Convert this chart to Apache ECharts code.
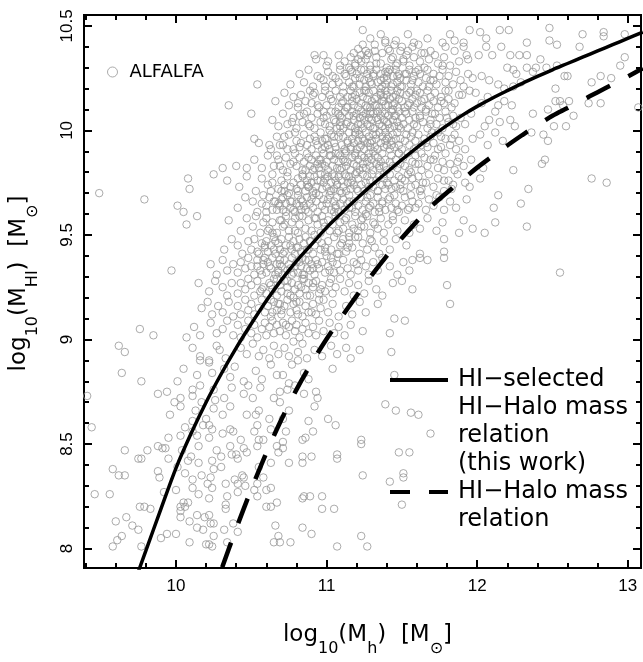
<!DOCTYPE html>
<html><head><meta charset="utf-8">
<script src="https://cdn.jsdelivr.net/npm/echarts@6/dist/echarts.min.js"></script>
<style>html,body{margin:0;padding:0;background:#fff}#c{width:643px;height:662px}</style>
</head><body><div id="c"></div>
<script>
const xRange = [9.389, 13.088];
const yRange = [7.907, 10.552];
const xMajorTicks = [10, 11, 12, 13];
const xMinorTicks = [9.4, 9.6, 9.8, 10.2, 10.4, 10.6, 10.8, 11.2, 11.4, 11.6, 11.8, 12.2, 12.4, 12.6, 12.8, 13.0];
const yMajorTicks = [8, 8.5, 9, 9.5, 10, 10.5];
const yMinorTicks = [8.1, 8.2, 8.3, 8.4, 8.6, 8.7, 8.8, 8.9, 9.1, 9.2, 9.3, 9.4, 9.6, 9.7, 9.8, 9.9, 10.1, 10.2, 10.3, 10.4];

const solidX = [9.7, 9.8, 9.9, 10.0, 10.1, 10.2, 10.3, 10.4, 10.5, 10.6, 10.7, 10.8, 10.9, 11.0, 11.1, 11.2, 11.3, 11.4, 11.5, 11.6, 11.7, 11.8, 11.9, 12.0, 12.1, 12.2, 12.3, 12.4, 12.5, 12.6, 12.7, 12.8, 12.9, 13.0, 13.1];
const solidY = [7.79, 7.99, 8.19, 8.385, 8.55, 8.70, 8.835, 8.96, 9.075, 9.185, 9.285, 9.375, 9.455, 9.535, 9.605, 9.673, 9.738, 9.80, 9.86, 9.918, 9.972, 10.024, 10.072, 10.115, 10.154, 10.19, 10.225, 10.258, 10.29, 10.32, 10.35, 10.38, 10.41, 10.44, 10.47];
const dashX = [10.2, 10.3, 10.4, 10.5, 10.6, 10.7, 10.8, 10.9, 11.0, 11.1, 11.2, 11.3, 11.4, 11.5, 11.6, 11.7, 11.8, 11.9, 12.0, 12.1, 12.2, 12.3, 12.4, 12.5, 12.6, 12.7, 12.8, 12.9, 13.0, 13.1];
const dashY = [7.70, 7.897, 8.096, 8.283, 8.458, 8.617, 8.76, 8.887, 9.002, 9.108, 9.21, 9.308, 9.40, 9.485, 9.565, 9.64, 9.703, 9.763, 9.822, 9.876, 9.928, 9.978, 10.025, 10.07, 10.107, 10.145, 10.183, 10.22, 10.258, 10.297];

const bandTop = [[11.24,10.48],[11.54,10.46],[11.67,10.44],[11.82,10.46],[11.95,10.48],[12.02,10.47],[12.15,10.48],[12.21,10.48],[12.48,10.49],[12.70,10.46],[12.84,10.47],[12.84,10.45],[12.98,10.46],[11.61,10.41],[11.77,10.42],[11.79,10.40],[11.91,10.42],[12.06,10.44],[12.16,10.40],[12.33,10.42],[12.48,10.43],[12.53,10.41],[12.68,10.40],[11.24,10.41],[11.39,10.43],[11.45,10.41],[11.57,10.40],[11.91,10.40],[11.85,10.43],[10.92,10.36],[10.98,10.36],[10.93,10.34],[11.0,10.31]];
const band103 = [[11.54,10.38],[11.42,10.38],[11.32,10.38],[11.18,10.37],[11.23,10.36],[11.28,10.37],[11.69,10.38],[11.72,10.36],[11.85,10.38],[11.93,10.36],[11.94,10.34],[12.01,10.36],[12.06,10.40],[12.10,10.36],[12.22,10.36],[12.28,10.36],[12.33,10.36],[12.42,10.34],[12.98,10.35],[12.95,10.31],[12.20,10.30],[12.24,10.29],[12.33,10.30],[12.39,10.30],[12.46,10.30],[12.53,10.31],[11.12,10.33],[11.15,10.30],[11.19,10.32],[11.26,10.34],[11.29,10.31],[11.33,10.35],[11.36,10.32],[11.40,10.30],[11.44,10.35],[11.47,10.32],[11.51,10.34],[11.55,10.31],[11.58,10.35],[11.62,10.33],[11.65,10.30],[11.68,10.34],[11.74,10.32],[11.78,10.35],[11.82,10.31],[11.88,10.33],[11.08,10.36],[11.37,10.37],[11.49,10.38],[11.63,10.37],[11.21,10.34]];
const band102 = [[10.76,10.22],[10.82,10.27],[10.85,10.23],[10.88,10.29],[10.91,10.21],[10.94,10.26],[10.98,10.24],[11.01,10.28],[11.04,10.22],[11.06,10.25],[11.09,10.29],[11.11,10.21],[11.13,10.26],[11.15,10.23],[11.17,10.28],[11.18,10.21],[11.19,10.25],[11.20,10.27],[11.22,10.22],[11.23,10.29],[11.25,10.24],[11.26,10.21],[11.27,10.27],[11.28,10.25],[11.29,10.29],[11.30,10.22],[11.31,10.26],[11.33,10.29],[11.34,10.23],[11.36,10.27],[11.37,10.21],[11.38,10.25],[11.39,10.28],[11.40,10.24],[11.41,10.28],[11.43,10.21],[11.44,10.26],[11.46,10.29],[11.47,10.23],[11.48,10.27],[11.49,10.25],[11.50,10.21],[11.52,10.27],[11.53,10.24],[11.55,10.29],[11.56,10.22],[11.58,10.26],[11.59,10.28],[11.61,10.23],[11.62,10.27],[11.64,10.21],[11.66,10.25],[11.67,10.29],[11.69,10.24],[11.71,10.27],[11.73,10.22],[11.75,10.26],[11.77,10.29],[11.79,10.23],[11.81,10.26],[11.84,10.22],[11.86,10.28],[11.89,10.24],[11.91,10.21],[11.94,10.27],[11.97,10.25],[12.03,10.26],[12.08,10.24],[12.14,10.22],[12.18,10.20],[12.24,10.21],[12.26,10.27],[12.29,10.23],[12.37,10.28],[12.58,10.26],[12.52,10.20],[12.60,10.26],[12.82,10.26],[12.89,10.25],[12.76,10.23]];
const band101 = [[10.35,10.12],[10.54,10.22],[10.50,10.08],[10.66,10.14],[10.72,10.18],[10.75,10.12],[10.78,10.16],[10.81,10.11],[10.83,10.17],[10.86,10.14],[10.89,10.19],[10.90,10.13],[10.92,10.18],[10.95,10.11],[10.97,10.16],[10.99,10.19],[11.00,10.12],[11.02,10.17],[11.04,10.14],[11.06,10.19],[11.08,10.11],[11.09,10.16],[11.10,10.13],[11.11,10.18],[11.13,10.11],[11.14,10.16],[11.16,10.19],[11.17,10.14],[11.18,10.12],[11.19,10.17],[11.20,10.15],[11.21,10.11],[11.22,10.18],[11.23,10.13],[11.24,10.16],[11.25,10.19],[11.26,10.12],[11.27,10.15],[11.28,10.18],[11.29,10.11],[11.30,10.14],[11.31,10.19],[11.32,10.12],[11.33,10.16],[11.35,10.11],[11.36,10.18],[11.37,10.14],[11.38,10.16],[11.39,10.12],[11.39,10.19],[11.40,10.17],[11.41,10.12],[11.42,10.15],[11.43,10.19],[11.45,10.13],[11.46,10.17],[11.47,10.11],[11.48,10.15],[11.49,10.18],[11.44,10.10],[11.50,10.14],[11.52,10.11],[11.53,10.17],[11.55,10.13],[11.56,10.19],[11.57,10.15],[11.58,10.11],[11.59,10.17],[11.60,10.13],[11.62,10.18],[11.63,10.11],[11.65,10.15],[11.67,10.19],[11.68,10.12],[11.69,10.16],[11.71,10.14],[11.72,10.18],[11.74,10.11],[11.76,10.16],[11.78,10.13],[11.79,10.19],[11.81,10.15],[11.83,10.11],[11.85,10.13],[11.88,10.17],[11.90,10.17],[11.95,10.19],[11.99,10.18],[12.03,10.13],[12.07,10.16],[12.14,10.12],[12.23,10.12],[12.18,10.14],[12.47,10.10],[12.52,10.14],[12.55,10.14],[12.57,10.12],[12.61,10.14],[12.74,10.13],[12.82,10.13],[13.07,10.11]];
const band100 = [[10.64,10.05],[10.68,10.02],[10.71,10.08],[10.74,10.03],[10.78,10.06],[10.80,10.01],[10.82,10.07],[10.84,10.04],[10.87,10.09],[10.89,10.02],[10.90,10.06],[10.92,10.01],[10.94,10.08],[10.96,10.04],[10.98,10.09],[10.99,10.03],[11.00,10.07],[11.02,10.02],[11.03,10.09],[11.05,10.05],[11.07,10.01],[11.08,10.08],[11.09,10.04],[11.10,10.06],[11.11,10.01],[11.12,10.09],[11.14,10.04],[11.15,10.07],[11.16,10.02],[11.17,10.09],[11.18,10.05],[11.19,10.01],[11.20,10.08],[11.21,10.03],[11.22,10.06],[11.23,10.09],[11.24,10.01],[11.25,10.05],[11.26,10.08],[11.27,10.03],[11.28,10.06],[11.29,10.09],[11.29,10.02],[11.30,10.05],[11.31,10.08],[11.32,10.01],[11.33,10.06],[11.34,10.09],[11.35,10.03],[11.36,10.07],[11.37,10.02],[11.38,10.05],[11.39,10.08],[11.39,10.01],[11.40,10.04],[11.41,10.07],[11.42,10.01],[11.43,10.09],[11.44,10.05],[11.45,10.02],[11.46,10.07],[11.47,10.04],[11.48,10.09],[11.49,10.01],[11.50,10.06],[11.51,10.03],[11.53,10.08],[11.54,10.01],[11.55,10.05],[11.57,10.09],[11.58,10.03],[11.59,10.06],[11.60,10.02],[11.62,10.07],[11.64,10.04],[11.66,10.09],[11.67,10.01],[11.69,10.05],[11.70,10.08],[11.73,10.03],[11.75,10.06],[11.77,10.01],[11.79,10.09],[11.81,10.04],[11.84,10.07],[11.86,10.02],[11.89,10.06],[11.92,10.03],[11.96,10.08],[12.05,10.02],[12.08,10.05],[12.15,10.04],[12.12,10.09],[12.22,10.05],[12.25,10.02],[12.37,10.08],[12.51,10.02],[12.59,10.02],[12.64,10.07]];
const band099 = [[10.55,9.94],[10.63,9.91],[10.67,9.97],[10.71,9.93],[10.75,9.98],[10.78,9.91],[10.80,9.95],[10.82,9.92],[10.85,9.98],[10.87,9.93],[10.89,9.96],[10.90,9.91],[10.92,9.97],[10.94,9.93],[10.96,9.99],[10.97,9.95],[10.99,9.92],[11.00,9.96],[11.02,9.91],[11.03,9.98],[11.05,9.94],[11.06,9.92],[11.08,9.97],[11.09,9.99],[11.10,9.93],[11.11,9.97],[11.12,9.91],[11.14,9.95],[11.15,9.99],[11.16,9.92],[11.17,9.96],[11.18,9.94],[11.19,9.98],[11.20,9.91],[11.21,9.95],[11.22,9.98],[11.23,9.93],[11.24,9.96],[11.25,9.91],[11.26,9.99],[11.27,9.94],[11.28,9.97],[11.29,9.92],[11.30,9.95],[11.31,9.98],[11.32,9.92],[11.33,9.96],[11.34,9.91],[11.35,9.99],[11.36,9.94],[11.37,9.97],[11.38,9.92],[11.39,9.95],[11.39,9.99],[11.40,9.93],[11.41,9.97],[11.42,9.91],[11.43,9.95],[11.44,9.98],[11.45,9.92],[11.46,9.96],[11.47,9.99],[11.48,9.93],[11.49,9.96],[11.50,9.91],[11.52,9.95],[11.53,9.98],[11.55,9.93],[11.56,9.97],[11.58,9.91],[11.59,9.95],[11.61,9.98],[11.63,9.93],[11.65,9.96],[11.67,9.92],[11.69,9.97],[11.71,9.94],[11.74,9.99],[11.76,9.92],[11.79,9.96],[11.82,9.93],[11.85,9.98],[11.88,9.95],[11.92,9.91],[11.97,9.96],[12.02,9.98],[12.07,9.93],[12.12,9.99],[12.17,9.95],[12.36,9.99],[12.44,9.98],[12.47,9.95],[10.62,9.93],[10.69,9.93],[10.52,9.96]];
const band098 = [[10.31,9.82],[10.52,9.86],[10.57,9.82],[10.61,9.88],[10.65,9.83],[10.68,9.86],[10.71,9.81],[10.73,9.87],[10.76,9.84],[10.79,9.89],[10.80,9.83],[10.82,9.87],[10.84,9.81],[10.85,9.85],[10.87,9.89],[10.89,9.83],[10.90,9.86],[10.91,9.81],[10.93,9.88],[10.94,9.84],[10.95,9.82],[10.96,9.86],[10.98,9.89],[10.99,9.83],[11.00,9.85],[11.01,9.81],[11.03,9.88],[11.04,9.83],[11.05,9.86],[11.06,9.89],[11.07,9.82],[11.08,9.85],[11.09,9.88],[11.10,9.82],[11.11,9.86],[11.12,9.89],[11.13,9.83],[11.14,9.85],[11.16,9.81],[11.17,9.87],[11.18,9.84],[11.19,9.89],[11.20,9.83],[11.21,9.86],[11.22,9.81],[11.23,9.88],[11.24,9.84],[11.25,9.87],[11.26,9.82],[11.27,9.85],[11.28,9.89],[11.29,9.83],[11.30,9.86],[11.31,9.81],[11.32,9.88],[11.33,9.84],[11.34,9.87],[11.35,9.82],[11.36,9.85],[11.37,9.89],[11.38,9.83],[11.39,9.86],[11.40,9.81],[11.42,9.85],[11.43,9.88],[11.44,9.83],[11.46,9.86],[11.47,9.82],[11.48,9.89],[11.49,9.84],[11.51,9.87],[11.52,9.83],[11.54,9.89],[11.55,9.81],[11.57,9.85],[11.59,9.88],[11.61,9.84],[11.63,9.81],[11.65,9.87],[11.67,9.83],[11.69,9.86],[11.72,9.88],[11.74,9.82],[11.77,9.85],[11.79,9.89],[11.82,9.84],[11.85,9.81],[11.88,9.87],[11.91,9.83],[11.96,9.86],[12.04,9.82],[12.24,9.81],[12.45,9.86],[12.43,9.84],[10.40,9.83],[10.47,9.82],[10.25,9.79]];
const band097 = [[10.08,9.77],[10.09,9.72],[10.34,9.76],[10.42,9.73],[10.47,9.78],[10.53,9.71],[10.57,9.77],[10.61,9.74],[10.64,9.79],[10.68,9.72],[10.70,9.76],[10.72,9.71],[10.74,9.78],[10.76,9.73],[10.78,9.75],[10.80,9.72],[10.81,9.77],[10.83,9.74],[10.84,9.79],[10.86,9.71],[10.87,9.76],[10.88,9.73],[10.89,9.78],[10.90,9.75],[10.91,9.71],[10.92,9.78],[10.93,9.73],[10.94,9.76],[10.96,9.79],[10.97,9.72],[10.98,9.75],[10.99,9.77],[11.00,9.73],[11.01,9.78],[11.02,9.71],[11.03,9.75],[11.04,9.79],[11.05,9.72],[11.06,9.76],[11.07,9.74],[11.08,9.78],[11.09,9.71],[11.10,9.76],[11.11,9.73],[11.12,9.79],[11.13,9.71],[11.14,9.75],[11.15,9.78],[11.16,9.72],[11.17,9.76],[11.18,9.74],[11.19,9.79],[11.20,9.72],[11.21,9.77],[11.23,9.74],[11.24,9.79],[11.25,9.71],[11.26,9.75],[11.27,9.78],[11.28,9.73],[11.29,9.76],[11.30,9.79],[11.31,9.73],[11.33,9.76],[11.34,9.71],[11.35,9.78],[11.37,9.74],[11.38,9.77],[11.39,9.72],[11.40,9.75],[11.42,9.79],[11.43,9.72],[11.45,9.76],[11.46,9.73],[11.48,9.78],[11.49,9.74],[11.51,9.71],[11.52,9.76],[11.54,9.79],[11.56,9.73],[11.57,9.77],[11.59,9.74],[11.61,9.78],[11.63,9.72],[11.66,9.75],[11.68,9.79],[11.71,9.73],[11.74,9.77],[11.78,9.71],[11.81,9.76],[11.84,9.74],[11.87,9.79],[11.92,9.75],[11.95,9.73],[12.02,9.77],[12.76,9.77],[12.86,9.75],[12.34,9.72]];
const band096 = [[9.49,9.70],[9.79,9.67],[10.01,9.64],[10.05,9.61],[10.41,9.63],[10.46,9.68],[10.51,9.66],[10.54,9.61],[10.58,9.69],[10.60,9.64],[10.62,9.68],[10.64,9.62],[10.66,9.66],[10.69,9.64],[10.70,9.67],[10.71,9.62],[10.73,9.65],[10.74,9.69],[10.76,9.63],[10.77,9.66],[10.79,9.61],[10.80,9.65],[10.81,9.69],[10.83,9.62],[10.84,9.66],[10.85,9.64],[10.87,9.68],[10.88,9.61],[10.89,9.65],[10.90,9.67],[10.91,9.63],[10.93,9.66],[10.94,9.61],[10.95,9.69],[10.97,9.64],[10.98,9.67],[10.99,9.62],[11.00,9.65],[11.02,9.69],[11.03,9.62],[11.05,9.66],[11.06,9.63],[11.07,9.68],[11.08,9.61],[11.09,9.65],[11.11,9.67],[11.12,9.62],[11.14,9.65],[11.15,9.69],[11.17,9.63],[11.18,9.66],[11.19,9.61],[11.21,9.64],[11.23,9.68],[11.24,9.62],[11.26,9.66],[11.28,9.63],[11.29,9.69],[11.31,9.65],[11.32,9.61],[11.34,9.68],[11.35,9.63],[11.37,9.66],[11.39,9.62],[11.41,9.67],[11.43,9.63],[11.45,9.69],[11.46,9.65],[11.48,9.61],[11.50,9.64],[11.52,9.68],[11.54,9.62],[11.57,9.66],[11.59,9.63],[11.61,9.65],[11.63,9.69],[11.66,9.62],[11.68,9.67],[11.71,9.64],[11.75,9.68],[11.78,9.62],[11.82,9.66],[11.86,9.63],[11.93,9.67],[12.11,9.63],[12.14,9.69],[12.29,9.65]];
const band095 = [[10.07,9.55],[10.14,9.59],[10.35,9.57],[10.43,9.52],[10.47,9.58],[10.51,9.54],[10.53,9.59],[10.56,9.51],[10.58,9.56],[10.60,9.58],[10.62,9.53],[10.64,9.56],[10.67,9.51],[10.69,9.57],[10.71,9.54],[10.73,9.59],[10.75,9.52],[10.77,9.56],[10.79,9.58],[10.81,9.51],[10.82,9.55],[10.84,9.59],[10.86,9.53],[10.88,9.57],[10.90,9.52],[10.92,9.58],[10.94,9.55],[10.96,9.51],[10.97,9.59],[10.99,9.54],[11.01,9.57],[11.02,9.52],[11.04,9.55],[11.06,9.59],[11.07,9.51],[11.09,9.56],[11.11,9.53],[11.13,9.58],[11.15,9.51],[11.17,9.55],[11.19,9.59],[11.21,9.52],[11.23,9.57],[11.25,9.54],[11.27,9.59],[11.29,9.51],[11.31,9.56],[11.34,9.53],[11.36,9.58],[11.38,9.51],[11.41,9.55],[11.44,9.59],[11.47,9.52],[11.52,9.57],[11.55,9.51],[11.58,9.55],[11.62,9.53],[11.67,9.58],[11.73,9.52],[11.77,9.56],[11.88,9.51],[11.91,9.57],[11.97,9.53],[12.05,9.51],[12.12,9.56],[12.33,9.54]];
const band094 = [[10.32,9.43],[10.37,9.48],[10.41,9.45],[10.44,9.41],[10.48,9.47],[10.50,9.43],[10.52,9.48],[10.55,9.41],[10.57,9.46],[10.59,9.44],[10.60,9.47],[10.61,9.42],[10.63,9.45],[10.65,9.49],[10.66,9.41],[10.68,9.46],[10.69,9.43],[10.70,9.48],[10.72,9.42],[10.73,9.45],[10.75,9.49],[10.77,9.43],[10.78,9.47],[10.79,9.41],[10.80,9.44],[10.82,9.48],[10.83,9.42],[10.85,9.46],[10.86,9.49],[10.88,9.43],[10.89,9.47],[10.91,9.41],[10.92,9.45],[10.94,9.48],[10.96,9.43],[10.97,9.46],[10.99,9.42],[11.01,9.47],[11.03,9.43],[11.05,9.49],[11.07,9.41],[11.09,9.45],[11.11,9.48],[11.13,9.42],[11.15,9.46],[11.17,9.44],[11.19,9.49],[11.22,9.41],[11.24,9.46],[11.27,9.43],[11.29,9.48],[11.32,9.44],[11.35,9.41],[11.38,9.47],[11.42,9.43],[11.46,9.48],[11.53,9.45],[11.62,9.41],[11.78,9.48],[11.78,9.42]];
const band093 = [[9.97,9.33],[10.23,9.36],[10.27,9.31],[10.31,9.38],[10.34,9.33],[10.38,9.36],[10.41,9.32],[10.43,9.37],[10.46,9.34],[10.48,9.39],[10.50,9.35],[10.52,9.31],[10.54,9.38],[10.56,9.33],[10.58,9.36],[10.59,9.39],[10.60,9.32],[10.61,9.37],[10.63,9.34],[10.64,9.39],[10.66,9.31],[10.67,9.36],[10.68,9.33],[10.69,9.38],[10.70,9.35],[10.71,9.31],[10.72,9.38],[10.74,9.33],[10.75,9.36],[10.77,9.39],[10.78,9.32],[10.79,9.35],[10.80,9.37],[10.81,9.32],[10.83,9.35],[10.84,9.39],[10.85,9.31],[10.87,9.34],[10.88,9.38],[10.89,9.33],[10.90,9.36],[10.92,9.31],[10.93,9.38],[10.95,9.34],[10.97,9.37],[10.99,9.32],[11.01,9.35],[11.03,9.39],[11.05,9.32],[11.07,9.36],[11.09,9.33],[11.11,9.38],[11.14,9.34],[11.16,9.31],[11.18,9.37],[11.21,9.33],[11.23,9.38],[11.26,9.35],[11.28,9.31],[11.31,9.37],[11.34,9.33],[11.37,9.39],[11.42,9.35],[11.47,9.31],[11.51,9.37],[11.55,9.33],[11.57,9.38],[11.62,9.39],[11.67,9.38],[11.78,9.39],[12.55,9.32]];
const band092 = [[10.15,9.27],[10.22,9.23],[10.26,9.28],[10.31,9.25],[10.34,9.21],[10.37,9.27],[10.41,9.22],[10.43,9.27],[10.46,9.24],[10.48,9.29],[10.50,9.26],[10.52,9.21],[10.54,9.28],[10.56,9.23],[10.58,9.25],[10.60,9.22],[10.62,9.27],[10.64,9.24],[10.65,9.29],[10.67,9.21],[10.69,9.26],[10.70,9.23],[10.72,9.28],[10.74,9.25],[10.76,9.21],[10.77,9.27],[10.79,9.24],[10.81,9.26],[10.82,9.22],[10.84,9.29],[10.86,9.24],[10.88,9.27],[10.89,9.21],[10.91,9.25],[10.93,9.28],[10.95,9.22],[10.97,9.26],[10.99,9.23],[11.02,9.27],[11.04,9.22],[11.06,9.25],[11.09,9.29],[11.12,9.23],[11.15,9.27],[11.18,9.21],[11.21,9.26],[11.25,9.22],[11.28,9.28],[11.33,9.24],[11.37,9.21],[11.44,9.27],[11.57,9.24],[11.50,9.28],[11.80,9.26]];
const band091 = [[10.17,9.15],[10.21,9.18],[10.24,9.12],[10.28,9.16],[10.31,9.13],[10.35,9.18],[10.38,9.11],[10.41,9.16],[10.43,9.12],[10.46,9.19],[10.48,9.14],[10.50,9.17],[10.52,9.12],[10.55,9.15],[10.57,9.19],[10.59,9.13],[10.61,9.16],[10.63,9.11],[10.65,9.18],[10.67,9.14],[10.69,9.17],[10.70,9.12],[10.72,9.16],[10.74,9.19],[10.76,9.13],[10.78,9.17],[10.80,9.14],[10.82,9.18],[10.84,9.11],[10.86,9.16],[10.88,9.13],[10.91,9.17],[10.93,9.12],[10.96,9.15],[10.98,9.19],[11.01,9.13],[11.04,9.17],[11.08,9.11],[11.13,9.16],[11.17,9.12],[11.22,9.18],[11.26,9.13],[11.34,9.17],[11.82,9.17],[11.45,9.10],[11.52,9.09]];
const band090 = [[9.76,9.05],[9.85,9.02],[10.07,9.01],[10.12,9.06],[10.16,9.02],[10.23,9.08],[10.27,9.03],[10.31,9.05],[10.34,9.09],[10.38,9.02],[10.41,9.07],[10.43,9.01],[10.46,9.05],[10.48,9.09],[10.50,9.03],[10.52,9.07],[10.54,9.01],[10.57,9.05],[10.59,9.08],[10.60,9.02],[10.62,9.06],[10.64,9.09],[10.65,9.03],[10.67,9.07],[10.69,9.04],[10.71,9.08],[10.73,9.02],[10.75,9.06],[10.77,9.09],[10.79,9.04],[10.80,9.07],[10.82,9.01],[10.84,9.05],[10.86,9.08],[10.88,9.03],[10.91,9.06],[10.93,9.02],[10.95,9.09],[10.98,9.04],[11.02,9.08],[11.05,9.03],[11.08,9.06],[11.12,9.02],[11.16,9.07],[11.24,9.04],[11.42,9.03]];
const band089 = [[9.62,8.97],[9.66,8.94],[10.11,8.96],[10.16,8.92],[10.22,8.90],[10.27,8.97],[10.29,8.95],[10.33,8.91],[10.43,8.96],[10.47,8.93],[10.51,8.98],[10.55,8.92],[10.58,8.95],[10.62,8.91],[10.65,8.97],[10.68,8.93],[10.72,8.96],[10.75,8.92],[10.78,8.99],[10.81,8.94],[10.84,8.98],[10.87,8.91],[10.92,8.95],[10.97,8.92],[11.03,8.97],[11.07,8.93],[11.13,8.96],[11.16,8.91],[11.22,8.95],[11.43,8.94]];
const band088 = [[9.64,8.84],[9.77,8.80],[10.01,8.80],[10.05,8.86],[10.14,8.83],[10.16,8.90],[10.24,8.84],[10.22,8.89],[10.32,8.86],[10.36,8.82],[10.39,8.87],[10.45,8.80],[10.53,8.85],[10.57,8.81],[10.63,8.88],[10.67,8.83],[10.71,8.83],[10.77,8.88],[10.81,8.90],[10.85,8.84],[10.88,8.81],[11.04,8.86],[11.45,8.83]];
const band087 = [[9.41,8.73],[9.88,8.74],[9.94,8.75],[10.11,8.76],[10.11,8.73],[10.16,8.78],[10.25,8.76],[10.03,8.72],[10.26,8.71],[10.32,8.72],[10.37,8.77],[10.45,8.74],[10.48,8.78],[10.51,8.72],[10.56,8.77],[10.65,8.72],[10.69,8.75],[10.74,8.76],[10.75,8.79],[10.79,8.78],[10.85,8.74],[10.93,8.75]];
const band086 = [[9.96,8.64],[9.99,8.70],[10.03,8.68],[10.11,8.61],[10.17,8.70],[10.20,8.62],[10.22,8.59],[10.13,8.66],[10.25,8.67],[10.31,8.64],[10.36,8.68],[10.47,8.64],[10.53,8.64],[10.55,8.66],[10.62,8.62],[10.71,8.62],[10.75,8.66],[10.69,8.70],[10.88,8.61],[10.92,8.68],[10.94,8.72],[11.01,8.62],[11.39,8.69],[11.46,8.66],[11.56,8.65],[11.61,8.64]];
const band085 = [[9.44,8.58],[9.95,8.53],[10.03,8.54],[10.06,8.58],[10.11,8.56],[10.14,8.54],[10.18,8.59],[10.22,8.53],[10.24,8.57],[10.31,8.55],[10.36,8.57],[10.38,8.56],[10.43,8.52],[10.52,8.56],[10.55,8.52],[10.54,8.59],[10.58,8.52],[10.63,8.57],[10.73,8.56],[10.71,8.51],[10.84,8.52],[10.86,8.53],[10.91,8.56],[11.06,8.59],[11.23,8.52],[11.69,8.55]];
const band084 = [[9.66,8.47],[9.75,8.43],[9.77,8.43],[9.81,8.47],[9.88,8.49],[9.91,8.48],[9.93,8.48],[9.95,8.43],[10.04,8.47],[10.08,8.42],[10.10,8.44],[10.15,8.49],[10.15,8.41],[10.24,8.42],[10.27,8.47],[10.30,8.44],[10.36,8.49],[10.37,8.45],[10.40,8.45],[10.45,8.48],[10.47,8.46],[10.41,8.43],[10.54,8.49],[10.67,8.49],[10.68,8.46],[10.63,8.41],[10.75,8.41],[10.71,8.48],[10.84,8.44],[10.84,8.41],[10.90,8.44],[11.07,8.45],[11.07,8.43],[11.23,8.50],[11.48,8.46],[11.55,8.46]];
const band083 = [[9.58,8.38],[9.62,8.35],[9.66,8.35],[9.88,8.37],[9.89,8.34],[10.01,8.39],[10.06,8.36],[10.11,8.33],[10.17,8.35],[10.23,8.34],[10.25,8.38],[10.21,8.31],[10.30,8.39],[10.33,8.31],[10.39,8.33],[10.41,8.31],[10.44,8.35],[10.45,8.34],[10.55,8.39],[10.54,8.31],[10.58,8.34],[11.24,8.35],[11.42,8.32],[11.51,8.36],[11.51,8.34]];
const band082 = [[9.46,8.26],[9.56,8.26],[9.76,8.20],[9.79,8.20],[9.83,8.19],[9.92,8.27],[10.00,8.28],[10.05,8.22],[10.06,8.20],[10.03,8.20],[10.08,8.22],[10.15,8.26],[10.11,8.29],[10.24,8.29],[10.22,8.24],[10.34,8.25],[10.33,8.21],[10.46,8.30],[10.41,8.27],[10.54,8.25],[10.52,8.28],[10.60,8.28],[10.63,8.29],[10.60,8.20],[10.63,8.20],[10.67,8.22],[10.84,8.24],[10.85,8.25],[10.89,8.25],[10.97,8.25],[10.97,8.19],[11.05,8.19],[11.50,8.21]];
const band081 = [[9.60,8.13],[9.67,8.15],[9.71,8.11],[9.75,8.09],[10.03,8.15],[10.03,8.18],[10.09,8.13],[10.14,8.16],[10.14,8.10],[10.19,8.15],[10.22,8.16],[10.23,8.12],[10.25,8.12],[10.33,8.19],[10.38,8.12],[10.66,8.11],[10.84,8.10]];
const band080 = [[9.58,8.01],[9.61,8.04],[9.64,8.06],[9.77,8.01],[9.90,8.05],[9.94,8.07],[10.00,8.07],[10.09,8.03],[10.18,8.09],[10.20,8.02],[10.22,8.02],[10.24,8.01],[10.25,8.06],[10.32,8.09],[10.34,8.03],[10.41,8.08],[10.68,8.06],[10.69,8.03],[10.65,8.03],[10.76,8.03],[10.90,8.07],[11.07,8.01],[11.23,8.06],[11.27,8.01]];
const coreExtra = [[11.23,10.33],[11.36,10.24],[11.18,10.07],[11.44,10.16],[11.29,9.94],[11.12,9.85],[11.07,9.74],[11.33,10.12],[11.41,10.03],[11.26,10.19],[11.05,9.97],[11.48,9.89],[11.38,9.79],[11.21,9.71],[11.15,9.63],[11.31,10.27],[11.46,10.31],[11.52,10.09],[11.57,9.99],[11.24,9.82],[11.02,9.88],[10.96,9.76],[10.91,9.69],[10.86,9.81],[11.09,10.02],[11.17,10.21],[11.34,10.05],[11.43,9.93],[11.28,9.87],[11.19,9.99],[11.11,10.14],[11.39,10.22],[11.47,10.26],[11.55,10.18],[11.62,10.06],[11.66,9.94],[11.59,9.84],[11.50,9.77],[11.42,9.68],[11.35,9.61],[10.83,9.67],[10.78,9.62],[10.88,9.73],[10.97,9.84],[11.01,9.93],[11.06,10.04],[11.14,10.11],[11.22,10.25],[11.27,10.36],[11.32,10.41],[11.41,10.39],[11.53,10.36],[11.61,10.29],[11.68,10.21],[11.72,10.08],[11.76,9.97],[11.71,9.86],[11.64,9.75],[11.56,9.69],[11.47,9.62],[11.13,9.78],[11.19,9.88],[11.25,9.95],[11.31,10.01],[11.37,10.09],[11.44,10.12],[11.49,10.21],[11.21,10.39],[11.16,10.29],[11.08,10.23],[11.03,10.15],[10.98,10.06],[10.93,9.95],[10.88,9.87],[10.84,9.78],[10.81,9.71],[10.76,9.66],[10.72,9.74],[10.69,9.83],[10.74,9.91],[10.79,9.99],[10.85,10.08],[10.91,10.17],[10.96,10.25],[11.01,10.33],[11.34,9.71],[11.29,9.64],[11.24,9.58],[11.18,9.53],[11.12,9.57],[11.06,9.64],[11.03,9.71],[10.99,9.79],[11.09,9.81],[11.16,9.91],[11.23,10.03],[11.27,10.11],[11.36,10.17],[11.42,10.29],[11.51,10.33],[11.57,10.24],[11.63,10.14],[11.69,10.03],[11.74,9.91],[11.78,9.81],[11.83,9.72],[11.86,9.91],[11.84,10.03],[11.81,10.19],[11.77,10.31],[11.46,10.43],[11.36,10.46],[11.29,10.44],[11.58,10.42],[11.65,10.37]];
const coreExtra2 = [[11.04,10.26],[11.13,10.03],[11.22,9.92],[11.35,9.83],[11.41,9.74],[11.27,9.68],[11.16,9.75],[11.08,9.89],[11.33,9.98],[11.45,10.07],[11.38,10.14],[11.29,10.23],[11.19,10.31],[11.12,10.27],[11.06,10.09],[10.99,9.96],[10.95,9.86],[11.01,9.67],[11.10,9.70],[11.20,9.80],[11.31,9.90],[11.40,9.96],[11.48,10.02],[11.54,10.12],[11.47,10.19],[11.40,10.26],[11.33,10.32],[11.25,10.29],[11.17,10.16],[11.09,10.07],[11.02,10.00],[10.97,9.91],[10.92,9.82],[10.87,9.74],[10.82,9.64],[10.75,9.70],[10.68,9.65],[10.73,9.61],[10.86,9.62],[10.93,9.70],[11.14,9.94],[11.24,10.07],[11.32,10.15],[11.44,10.22],[11.53,10.27],[11.60,10.19],[11.66,10.10],[11.70,9.99],[11.63,9.89],[11.56,9.80],[11.49,9.72],[11.37,9.65],[11.26,9.60],[11.15,9.66],[11.05,9.78],[11.13,9.90],[11.21,10.00],[11.29,10.08],[11.36,10.20],[11.43,10.34],[11.50,10.40],[11.39,10.42],[11.26,10.38],[11.16,10.35],[11.09,10.31],[10.99,10.21],[10.94,10.12],[10.88,10.03],[10.83,9.94],[10.78,9.85],[10.74,9.80],[10.70,9.71],[10.65,9.66],[10.60,9.61],[10.57,9.65],[10.64,9.75],[10.67,9.88],[10.72,9.97],[10.77,10.04],[10.81,10.13],[11.71,10.24],[11.76,10.14],[11.80,10.06],[11.83,9.96],[11.87,9.85],[11.78,9.76],[11.73,9.69],[11.62,9.71],[11.55,9.63],[11.44,9.57],[11.32,9.55],[11.21,9.49],[11.10,9.46],[11.00,9.40],[10.91,9.34],[10.85,9.29],[10.78,9.20],[10.70,9.14],[10.63,9.19],[10.57,9.24],[10.54,9.35],[10.59,9.45],[10.64,9.51],[10.70,9.57],[10.76,9.45],[10.82,9.37],[10.87,9.43],[10.92,9.50],[10.98,9.56],[11.05,9.61],[10.74,9.28],[10.68,9.32],[10.80,9.18],[10.90,9.13],[10.96,9.24],[11.02,9.33],[11.08,9.41],[11.15,9.49],[11.23,9.54],[11.30,9.47]];
const lobeExtra = [[10.62,9.35],[10.67,9.29],[10.71,9.41],[10.76,9.34],[10.81,9.44],[10.86,9.38],[10.91,9.27],[10.74,9.22],[10.68,9.17],[10.63,9.26],[10.57,9.31],[10.54,9.42],[10.66,9.47],[10.79,9.52],[10.84,9.31],[10.89,9.47],[10.94,9.36],[10.99,9.44],[11.04,9.37],[10.72,9.55],[10.61,9.52],[10.58,9.38],[10.64,9.13],[10.73,9.07],[10.81,9.12],[10.87,9.21],[10.77,9.31],[10.83,9.25],[10.65,9.43],[10.69,9.36],[10.67,9.62],[10.71,9.68],[10.63,9.71],[10.82,9.59],[10.93,9.58],[11.08,9.52],[11.14,9.44],[11.20,9.36],[11.03,9.29],[10.95,9.19]];

const alfalfa = [].concat(bandTop, band103, band102, band101, band100, band099, band098, band097, band096, band095, band094, band093, band092, band091, band090, band089, band088, band087, band086, band085, band084, band083, band082, band081, band080, coreExtra, coreExtra2, lobeExtra);

const solidName = 'HI\u2212selected HI\u2212Halo mass relation (this work)';
const dashName = 'HI\u2212Halo mass relation';
const legendText = {
  'ALFALFA': 'ALFALFA',
  [solidName]: '\n\n\nHI\u2212selected\nHI\u2212Halo mass\nrelation\n(this work)',
  [dashName]: '\nHI\u2212Halo mass\nrelation'
};

const chart = echarts.init(document.getElementById('c'), null, {renderer: 'canvas'});
const tickFont = {fontFamily: 'Liberation Sans', fontSize: 17, color: '#000'};
const lineAx = {show: true, lineStyle: {color: '#000', width: 2}};
function xAx(pos, vals, len, labels) {
  return {type: 'value', position: pos, min: xRange[0], max: xRange[1], axisLine: lineAx,
    splitLine: {show: false},
    axisTick: {show: true, inside: true, length: len, customValues: vals, lineStyle: {color: '#000', width: 2}},
    axisLabel: labels ? Object.assign({show: true, margin: 10, customValues: vals}, tickFont) : {show: false}};
}
function yAx(pos, vals, len, labels) {
  return {type: 'value', position: pos, min: yRange[0], max: yRange[1], axisLine: lineAx,
    splitLine: {show: false},
    axisTick: {show: true, inside: true, length: len, customValues: vals, lineStyle: {color: '#000', width: 2}},
    axisLabel: labels ? Object.assign({show: true, margin: 8, rotate: 90, customValues: vals}, tickFont) : {show: false}};
}
const titleRich = {
  n: {fontFamily: 'DejaVu Sans', fontSize: 23, color: '#000', lineHeight: 30, verticalAlign: 'top'},
  s: {fontFamily: 'DejaVu Sans', fontSize: 16, color: '#000', lineHeight: 16, padding: [17, 0, 0, 0], verticalAlign: 'top'}
};
const xMain = xAx('bottom', xMajorTicks, 8, true);
xMain.name = '{n|log}{s|10}{n|(M}{s|h}{n|)  [M}{s|\u2299}{n|]}';
xMain.nameLocation = 'middle';
xMain.nameGap = 56;
xMain.nameTextStyle = {rich: titleRich, padding: [0, 0, 0, 10]};
const yMain = yAx('left', yMajorTicks, 8, true);
yMain.name = '{n|log}{s|10}{n|(M}{s|HI}{n|)  [M}{s|\u2299}{n|]}';
yMain.nameLocation = 'middle';
yMain.nameGap = 46;
yMain.nameTextStyle = {rich: titleRich, padding: [0, 0, 0, 16]};

const legendBase = {orient: 'vertical', padding: 0, selectedMode: false, itemGap: 0};
const option = {
  animation: false,
  backgroundColor: '#fff',
  grid: {left: 84, top: 15, width: 557, height: 558, containLabel: false},
  xAxis: [xMain, xAx('bottom', xMinorTicks, 5, false), xAx('top', xMajorTicks, 8, false), xAx('top', xMinorTicks, 5, false)],
  yAxis: [yMain, yAx('left', yMinorTicks, 5, false), yAx('right', yMajorTicks, 8, false), yAx('right', yMinorTicks, 5, false)],
  legend: [
    Object.assign({}, legendBase, {left: 107, top: 62, data: [{name: 'ALFALFA', icon: 'circle'}], itemWidth: 10, itemHeight: 10,
      itemStyle: {color: 'rgba(0,0,0,0)', borderColor: '#969696', borderWidth: 1},
      formatter: n => legendText[n],
      textStyle: {fontFamily: 'DejaVu Sans', fontSize: 18, color: '#000', lineHeight: 20, padding: [0, 0, 0, 7]}}),
    Object.assign({}, legendBase, {left: 390, top: 282, data: [{name: solidName, icon: 'rect'}], itemWidth: 58, itemHeight: 4,
      itemStyle: {color: '#000', borderWidth: 0},
      formatter: n => legendText[n],
      textStyle: {fontFamily: 'DejaVu Sans', fontSize: 24, color: '#000', lineHeight: 28, padding: [0, 0, 0, 5]}}),
    Object.assign({}, legendBase, {left: 390, top: 450, data: [{name: dashName, icon: 'path://M0 0H20V4H0Z M39 0H58V4H39Z'}], itemWidth: 58, itemHeight: 4,
      itemStyle: {color: '#000', borderWidth: 0},
      formatter: n => legendText[n],
      textStyle: {fontFamily: 'DejaVu Sans', fontSize: 24, color: '#000', lineHeight: 28, padding: [0, 0, 0, 5]}})
  ],
  series: [
    {name: 'ALFALFA', type: 'scatter', data: alfalfa, symbol: 'circle', symbolSize: 7.5, z: 2,
      itemStyle: {color: 'rgba(0,0,0,0)', borderColor: '#969696', borderWidth: 1}},
    {name: solidName, type: 'line', data: solidX.map((x, i) => [x, solidY[i]]), showSymbol: false, symbol: 'none', smooth: 0.3, z: 5,
      itemStyle: {color: '#000'}, lineStyle: {color: '#000', width: 3.5}},
    {name: dashName, type: 'line', data: dashX.map((x, i) => [x, dashY[i]]), showSymbol: false, symbol: 'none', smooth: 0.3, z: 5,
      itemStyle: {color: '#000'}, lineStyle: {color: '#000', width: 4.5, type: [26, 21], cap: 'butt'}}
  ]
};
chart.setOption(option);
</script>
</body></html>
